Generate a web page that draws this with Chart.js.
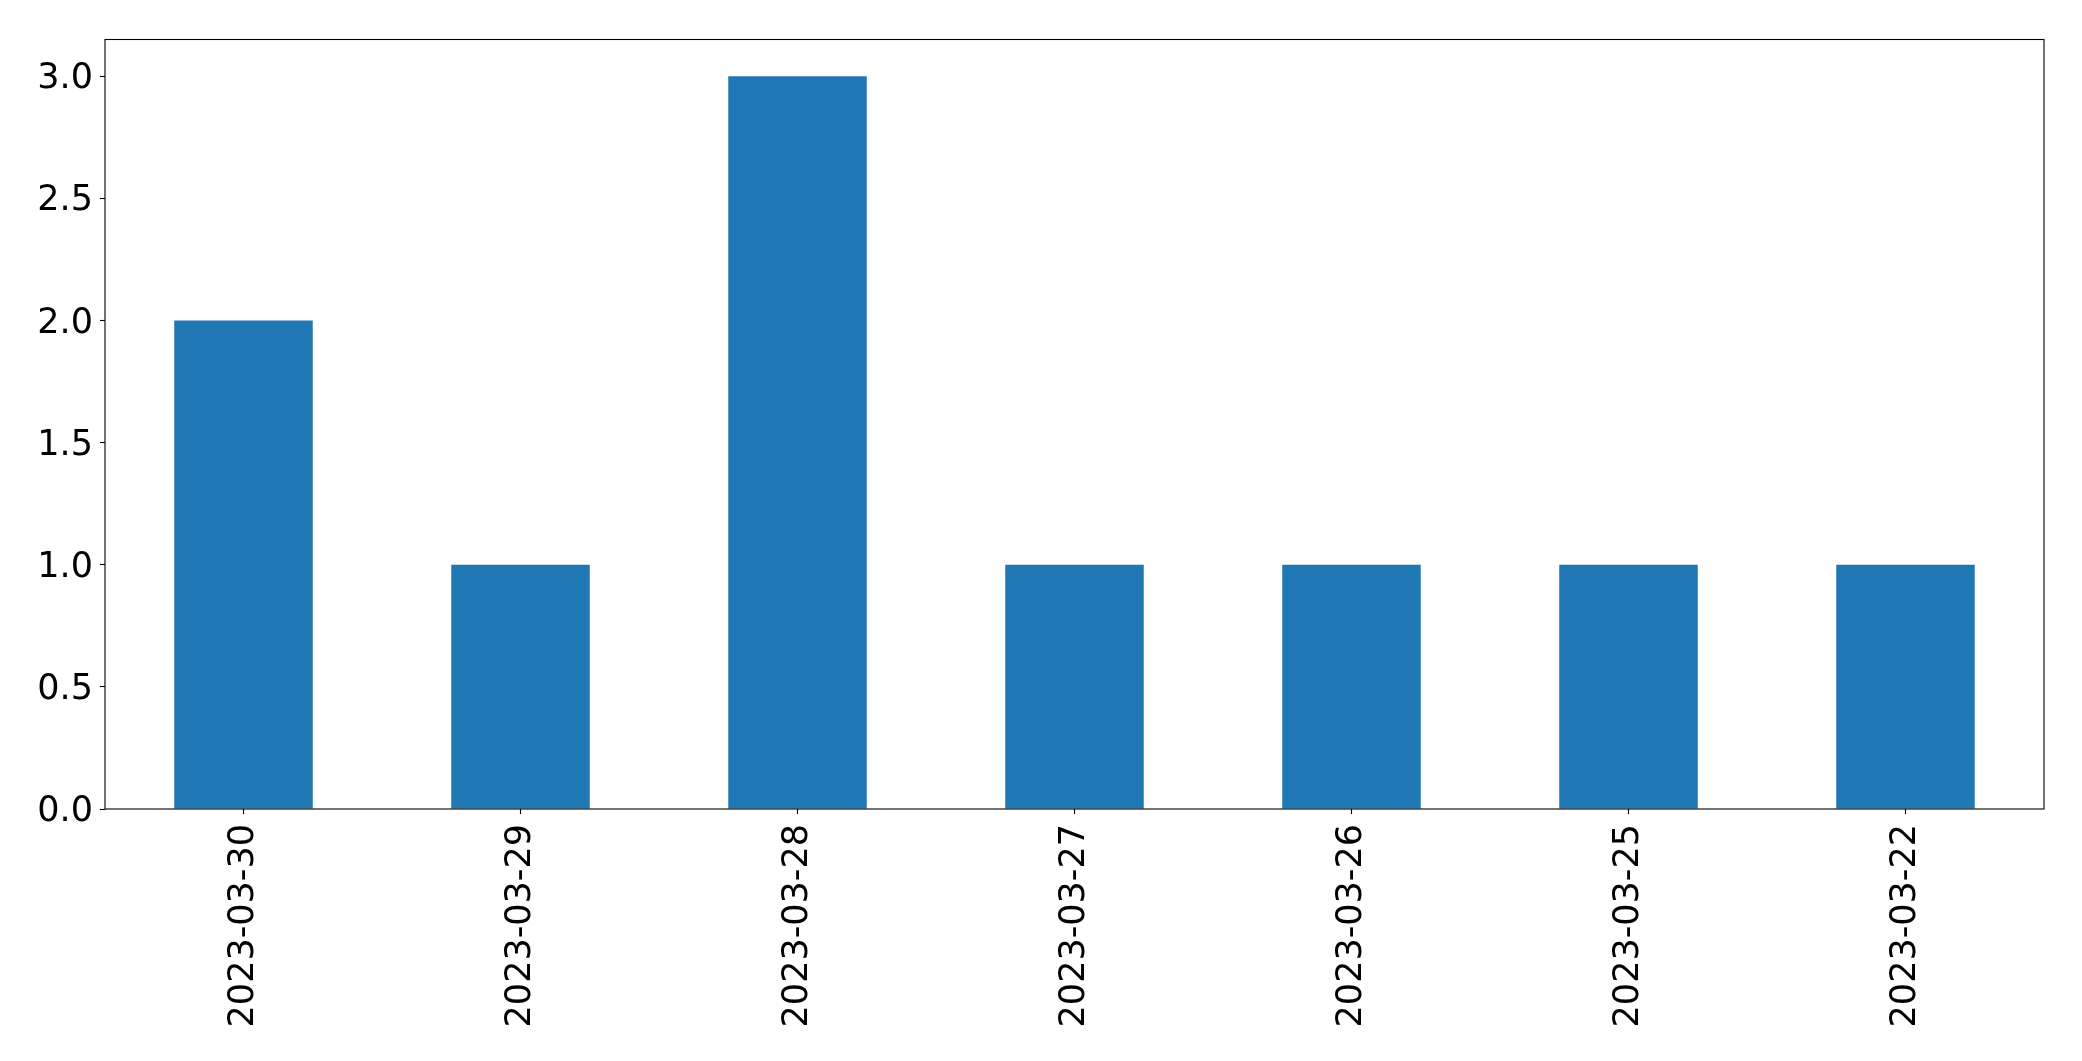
<!DOCTYPE html>
<html>
<head>
<meta charset="utf-8">
<script src="https://cdn.jsdelivr.net/npm/chart.js@4"></script>
<style>
html,body{margin:0;padding:0;background:#fff;}
canvas{display:block;}
</style>
</head>
<body>
<canvas id="c" width="2082" height="1061"></canvas>
<script>
const categories = ["2023-03-30","2023-03-29","2023-03-28","2023-03-27","2023-03-26","2023-03-25","2023-03-22"];
const counts = [2, 1, 3, 1, 1, 1, 1];
const yTicks = [0, 0.5, 1.0, 1.5, 2.0, 2.5, 3.0];

const frame = {
  id: 'frame',
  afterDatasetsDraw(chart) {
    const a = chart.chartArea, ctx = chart.ctx;
    ctx.save();
    ctx.strokeStyle = '#000';
    ctx.lineWidth = 1.1;
    ctx.strokeRect(a.left, a.top, a.right - a.left, a.bottom - a.top);
    ctx.restore();
  }
};

const font = {family: "'DejaVu Sans'", size: 35};

new Chart(document.getElementById('c'), {
  type: 'bar',
  data: {
    labels: categories,
    datasets: [{
      data: counts,
      backgroundColor: '#1f77b4',
      borderWidth: 0,
      categoryPercentage: 1.0,
      barPercentage: 0.5
    }]
  },
  options: {
    responsive: false,
    animation: false,
    devicePixelRatio: 1,
    layout: {padding: {top: 39.5, right: 38, left: 0, bottom: 0}},
    plugins: {legend: {display: false}, tooltip: {enabled: false}},
    scales: {
      x: {
        offset: true,
        grid: {display: true, offset: false, drawOnChartArea: false, drawTicks: true, tickLength: 5, tickColor: '#000', tickWidth: 1.1},
        border: {display: false},
        ticks: {color: '#000', font: font, maxRotation: 90, minRotation: 90, autoSkip: false, padding: 10},
        afterFit(s) { s.height = 1061 - 809; }
      },
      y: {
        min: 0,
        max: 3.15,
        grid: {display: true, drawOnChartArea: false, drawTicks: true, tickLength: 5, tickColor: '#000', tickWidth: 1.1},
        border: {display: false},
        ticks: {color: '#000', font: font, padding: 7, labelOffset: 3, callback: v => Number(v).toFixed(1)},
        afterBuildTicks(s) { s.ticks = yTicks.map(v => ({value: v})); },
        afterFit(s) { s.width = 105; }
      }
    }
  },
  plugins: [frame]
});
</script>
</body>
</html>
